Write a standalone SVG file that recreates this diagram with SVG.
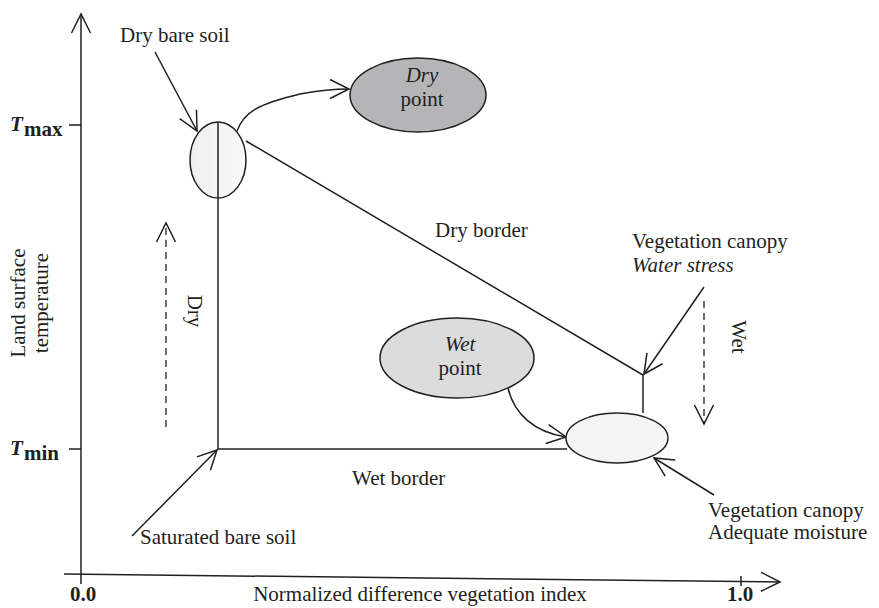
<svg xmlns="http://www.w3.org/2000/svg" width="879" height="608" viewBox="0 0 879 608">
  <style>
    .ln { fill: none; stroke: #231f20; stroke-width: 1.5; }
    .dash { fill: none; stroke: #231f20; stroke-width: 1.3; stroke-dasharray: 7 5; }
    .node { stroke: #231f20; stroke-width: 1.5; }
    text { font-family: "Liberation Serif", "Times New Roman", serif; font-size: 21px; fill: #231f20; }
    .it { font-style: italic; }
    .bd { font-weight: bold; }
    .mid { text-anchor: middle; }
  </style>
  <defs>
    <marker id="open" markerUnits="userSpaceOnUse" markerWidth="24" markerHeight="24" viewBox="-22 -12 24 24" refX="0" refY="0" orient="auto" overflow="visible">
      <path d="M-19,-9.5 L0,0 L-19,9.5" fill="none" stroke="#231f20" stroke-width="1.5"/>
    </marker>
    <linearGradient id="soilFill" x1="0" y1="0" x2="1" y2="0">
      <stop offset="0" stop-color="#eeeff0"/>
      <stop offset="1" stop-color="#f9f9f9"/>
    </linearGradient>
  </defs>

  <!-- axes -->
  <g id="axes">
    <path class="ln" d="M81,584 L81,14" marker-end="url(#open)"/>
    <path class="ln" d="M64,574 L780,582" marker-end="url(#open)"/>
    <path class="ln" d="M69,125 H81 M69,449 H81 M741,576 V586"/>
    <text x="10" y="131" class="it bd" font-size="23">T</text>
    <text x="24" y="136" class="bd" font-size="16">max</text>
    <text x="10" y="455" class="it bd" font-size="23">T</text>
    <text x="24" y="460" class="bd" font-size="16">min</text>
    <text x="83" y="601" class="bd mid">0.0</text>
    <text x="740" y="601" class="bd mid">1.0</text>
    <text x="420" y="601" class="mid">Normalized difference vegetation index</text>
    <text transform="translate(25,303) rotate(-90)" class="mid">Land surface</text>
    <text transform="translate(48,303) rotate(-90)" class="mid">temperature</text>
  </g>

  <!-- connectors: borders, pointers and trend arrows -->
  <g id="connectors">
    <path class="ln" d="M218,122 V449 H567"/>
    <path class="ln" d="M246,141 L643,375 V413"/>
    <path class="ln" d="M237,131 C244,112 258,104 300,94 C322,90 336,89 349,89" marker-end="url(#open)"/>
    <path class="ln" d="M508,388 C514,414 534,432 566,437" marker-end="url(#open)"/>
    <path class="ln" d="M155,52 L197,131" marker-end="url(#open)"/>
    <path class="ln" d="M132,536 L217,450" marker-end="url(#open)"/>
    <path class="ln" d="M704,287 L644,374" marker-end="url(#open)"/>
    <path class="ln" d="M714,495 L654,458" marker-end="url(#open)"/>
    <path class="dash" d="M166,427 V223" marker-end="url(#open)"/>
    <path class="dash" d="M704,301 V424" marker-end="url(#open)"/>
  </g>

  <g id="dry-bare-soil">
    <ellipse class="node" cx="218" cy="160" rx="28" ry="38" fill="url(#soilFill)"/>
    <line class="ln" x1="218" y1="122" x2="218" y2="198"/>
    <text x="120" y="42">Dry bare soil</text>
  </g>

  <g id="dry-point">
    <ellipse class="node" cx="418" cy="95" rx="68" ry="37" fill="#b5b5b7"/>
    <text x="422" y="82" class="mid it">Dry</text>
    <text x="422" y="106" class="mid">point</text>
  </g>

  <g id="wet-point">
    <ellipse class="node" cx="457" cy="358" rx="77" ry="40" fill="#dcdcdd"/>
    <text x="460" y="351" class="mid it">Wet</text>
    <text x="460" y="375" class="mid">point</text>
  </g>

  <g id="vegetation-wet">
    <ellipse class="node" cx="617" cy="438" rx="51" ry="25" fill="#f4f4f5"/>
  </g>

  <g id="labels">
    <text x="435" y="237">Dry border</text>
    <text x="352" y="485">Wet border</text>
    <text x="140" y="544">Saturated bare soil</text>
    <text x="632" y="248">Vegetation canopy</text>
    <text x="632" y="272" class="it">Water stress</text>
    <text x="708" y="517">Vegetation canopy</text>
    <text x="708" y="539">Adequate moisture</text>
    <text transform="translate(188,311) rotate(90)" class="mid">Dry</text>
    <text transform="translate(732,337) rotate(90)" class="mid">Wet</text>
  </g>
</svg>
